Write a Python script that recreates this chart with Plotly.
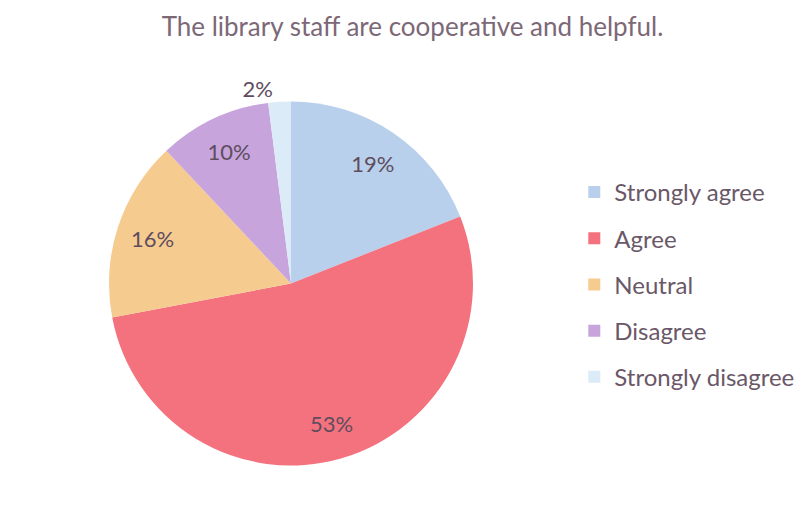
import plotly.graph_objects as go

# survey responses
categories = ["Strongly agree", "Agree", "Neutral", "Disagree", "Strongly disagree"]
percents = [19, 53, 16, 10, 2]
colors = ["#b9d0ec", "#f4717e", "#f6cb8f", "#c7a4dc", "#dbebf7"]
text_pos = ["inside", "inside", "inside", "inside", "outside"]

title_text = "The library staff are cooperative and helpful."

pie_domain = dict(x=[0.1248, 0.5748], y=[0.1384, 0.8239])

fig = go.Figure()

# the coloured pie itself
fig.add_trace(go.Pie(
    labels=categories,
    values=percents,
    sort=False,
    direction="clockwise",
    rotation=0,
    marker=dict(colors=colors),
    textinfo="none",
    domain=pie_domain,
    showlegend=False,
    hoverinfo="label+percent",
))

# transparent ring on top, only to put the labels out towards the rim
fig.add_trace(go.Pie(
    labels=categories,
    values=percents,
    sort=False,
    direction="clockwise",
    rotation=0,
    hole=0.6,
    marker=dict(colors=["rgba(0,0,0,0)"] * len(categories)),
    texttemplate="%{value}%",
    textposition=text_pos,
    insidetextorientation="horizontal",
    textfont=dict(family="Lato", size=22, color="#5e4d5e"),
    domain=pie_domain,
    showlegend=False,
    hoverinfo="skip",
))

# legend entries, one group each so the rows can be spaced out
for name, col in zip(categories, colors):
    fig.add_trace(go.Scatter(
        x=[None], y=[None], mode="markers", name=name,
        legendgroup=name,
        marker=dict(symbol="square", size=10, color=col),
    ))

fig.update_layout(
    width=809, height=531,
    margin=dict(l=0, r=0, t=0, b=0),
    paper_bgcolor="white",
    plot_bgcolor="white",
    xaxis=dict(visible=False),
    yaxis=dict(visible=False),
    title=dict(text=title_text, x=0.5, xanchor="center", y=0.964, yanchor="middle",
               font=dict(family="Lato", size=26, color="#7d6877")),
    legend=dict(x=0.7, y=0.695, xanchor="left", yanchor="top",
                font=dict(family="Lato", size=24, color="#6a5868"),
                tracegroupgap=12, itemsizing="constant",
                bgcolor="rgba(0,0,0,0)"),
)

fig.write_html("out.html")
